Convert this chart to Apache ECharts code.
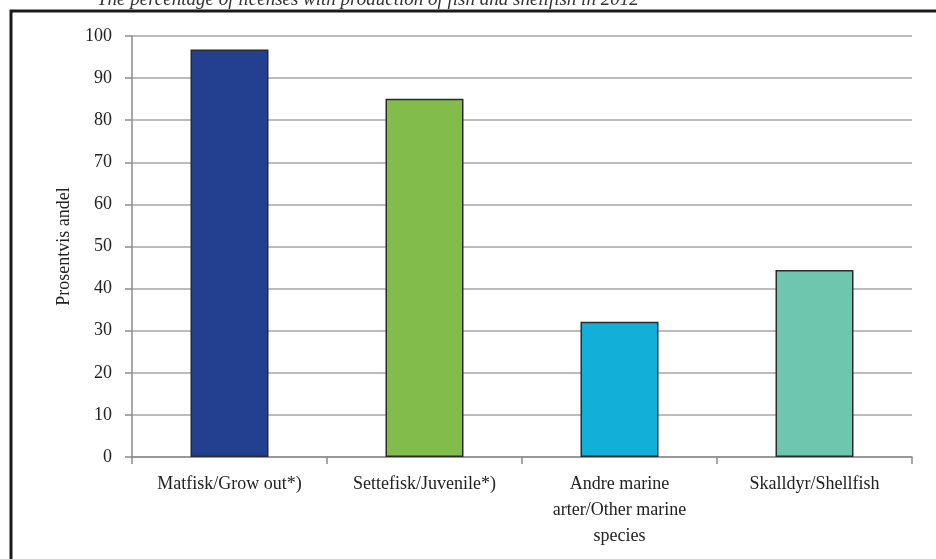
<!DOCTYPE html>
<html>
<head>
<meta charset="utf-8">
<script src="https://cdn.jsdelivr.net/npm/echarts@6/dist/echarts.min.js"></script>
<style>
html,body{margin:0;padding:0;background:#fff;}
#chart{width:936px;height:559px;}
</style>
</head>
<body>
<div id="chart"></div>
<script>
const titleText = 'The percentage of licenses with production of fish and shellfish in 2012';
const categories = ['Matfisk/Grow out*)', 'Settefisk/Juvenile*)', 'Andre marine\narter/Other marine\nspecies', 'Skalldyr/Shellfish'];
const values = [96.8, 85.1, 32.1, 44.4];
const barColors = ['#22408f', '#82bc4a', '#12afd9', '#6fc6ae'];
const yName = 'Prosentvis andel';

const chart = echarts.init(document.getElementById('chart'));
const font = '"Liberation Serif", "DejaVu Serif", serif';
chart.setOption({
  animation: false,
  textStyle: { fontFamily: font },
  graphic: [
    { type: 'rect', shape: { x: 11, y: 11, width: 960, height: 600 }, style: { fill: 'none', stroke: '#1a1a1a', lineWidth: 3 }, z: 100 },
    { type: 'text', left: 97, top: -10, style: { text: titleText, font: 'italic 19px ' + font, fill: '#333' } }
  ],
  grid: { left: 132, right: 24, top: 36, bottom: 102 },
  xAxis: {
    type: 'category',
    data: categories,
    axisLine: { lineStyle: { color: '#8c8c8c', width: 1.5 } },
    axisTick: { show: true, length: 7, lineStyle: { color: '#8c8c8c', width: 1.5 } },
    axisLabel: { color: '#222', fontSize: 18, margin: 14, lineHeight: 26, interval: 0 }
  },
  yAxis: {
    type: 'value',
    min: 0, max: 100, interval: 10,
    name: yName,
    nameLocation: 'middle',
    nameGap: 59,
    nameTextStyle: { color: '#222', fontSize: 18 },
    axisLine: { show: true, lineStyle: { color: '#8c8c8c', width: 1.5 } },
    axisTick: { show: true, length: 7, lineStyle: { color: '#8c8c8c', width: 1.5 } },
    axisLabel: { color: '#222', fontSize: 18, margin: 20 },
    splitLine: { lineStyle: { color: '#a6a6a6', width: 1.5 } }
  },
  series: [{
    type: 'bar',
    data: values.map((v, i) => ({ value: v, itemStyle: { color: barColors[i] } })),
    barWidth: '40%',
    itemStyle: { borderColor: '#2a2a2a', borderWidth: 1.5 }
  }]
});
</script>
</body>
</html>
